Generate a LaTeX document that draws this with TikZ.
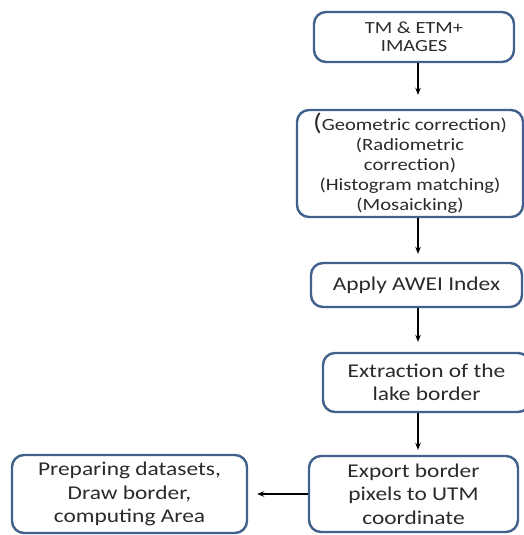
\documentclass[tikz,border=0pt]{standalone}
\usepackage{fontspec}
\setmainfont[FakeStretch=1.2]{Carlito}
\usetikzlibrary{arrows.meta}
\definecolor{bordo}{HTML}{41628C}
\definecolor{testo}{HTML}{2A2A2A}
\tikzset{
	passo/.style={draw=bordo, line width=2.4pt, rounded corners=12pt, align=center, text=testo, inner sep=0pt},
	freccia/.style={-{Stealth[length=7pt,width=5.5pt]}, line width=1.1pt, black}
}
\begin{document}
\begin{tikzpicture}[x=1pt, y=-1pt]
		
		\useasboundingbox (0,0) rectangle (524,535);
		\clip (0,0) rectangle (524,535);
		
		%Disegno i nodi della colonna principale
		\node (immagini) at (414,37) [passo, minimum width=200pt, minimum height=50pt, font=\fontsize{17}{18}\selectfont]{TM \& ETM+\\IMAGES};
		
		\node (correzioni) at (410,163.5) [passo, minimum width=226pt, minimum height=107pt, font=\fontsize{17.2}{20}\selectfont]{{\fontsize{24}{20}\selectfont(}Geometric correction)\\(Radiometric\\correction)\\(Histogram matching)\\(Mosaicking)};
		
		\node (awei) at (416.5,285) [passo, minimum width=211pt, minimum height=44pt, font=\fontsize{19.5}{23.5}\selectfont]{Apply AWEI Index};
		
		\node (estrazione) at (426.5,382.5) [passo, minimum width=207pt, minimum height=59pt, font=\fontsize{19.5}{23.5}\selectfont]{Extraction of the\\lake border};
		
		\node (esporta) at (413.5,494) [passo, minimum width=209pt, minimum height=76pt, font=\fontsize{19.5}{23.5}\selectfont]{Export border\\pixels to UTM\\coordinate};
		
		\node (dataset) at (129.5,494) [passo, minimum width=235pt, minimum height=78pt, font=\fontsize{19.5}{23.5}\selectfont]{Preparing datasets,\\Draw border,\\computing Area};
		
		%Disegno i collegamenti
		\coordinate (asse) at (418,0);
		
		\draw[freccia, shorten >=14pt] (immagini.south -| asse) -- (correzioni.north -| asse);
		
		\draw[freccia, shorten >=8pt] (correzioni.south -| asse) -- (awei.north -| asse);
		
		\draw[freccia, shorten >=10pt] (awei.south -| asse) -- (estrazione.north -| asse);
		
		\draw[freccia, shorten >=5pt] (estrazione.south -| asse) -- (esporta.north -| asse);
		
		\draw[freccia, shorten >=9pt] (esporta.west) -- (esporta.west -| dataset.east);
		
		\end{tikzpicture}
\end{document}
